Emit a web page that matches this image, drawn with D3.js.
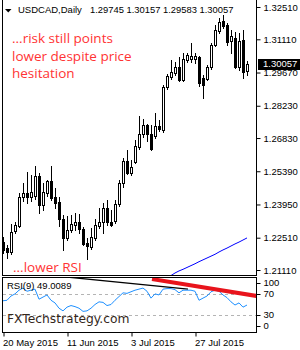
<!DOCTYPE html>
<html lang="en">
<head>
  <meta charset="UTF-8">
  <title>USDCAD Daily</title>
  <style>
    body { margin: 0; background: #fff; }
    svg { display: block; }
    text { font-family: "Liberation Sans", Arial, sans-serif; }
  </style>
</head>
<body>
  <script src="https://cdn.jsdelivr.net/npm/d3@7"></script>
  <script>
    // bars: 20 May 2015 .. 13 Aug 2015, one per trading day
    var dateLabels = ["20 May 2015", "11 Jun 2015", "3 Jul 2015", "27 Jul 2015"];
    var dateIndex = [0, 16, 32, 48];

    var opens = [1.2232, 1.2206, 1.2189, 1.2280, 1.2302, 1.2427, 1.2445, 1.2427, 1.2432, 1.2518,
      1.2393, 1.2445, 1.2497, 1.2427, 1.2406, 1.2332, 1.2250, 1.2284, 1.2306, 1.2319,
      1.2289, 1.2228, 1.2211, 1.2250, 1.2302, 1.2319, 1.2380, 1.2319, 1.2323, 1.2397,
      1.2488, 1.2584, 1.2531, 1.2579, 1.2644, 1.2701, 1.2740, 1.2701, 1.2692, 1.2735,
      1.2718, 1.2904, 1.2948, 1.2965, 1.2991, 1.2935, 1.3021, 1.3026, 1.3026, 1.3034,
      1.2943, 1.2939, 1.2991, 1.3086, 1.3147, 1.3190, 1.3173, 1.3104, 1.3117, 1.2993,
      1.3108, 1.29745];
    var highs = [1.2254, 1.2219, 1.2310, 1.2319, 1.2445, 1.2488, 1.2536, 1.2523, 1.2562, 1.2531,
      1.2488, 1.2501, 1.2562, 1.2466, 1.2427, 1.2349, 1.2345, 1.2349, 1.2358, 1.2354,
      1.2297, 1.2250, 1.2293, 1.2332, 1.2380, 1.2401, 1.2414, 1.2371, 1.2414, 1.2501,
      1.2597, 1.2631, 1.2588, 1.2675, 1.2779, 1.2766, 1.2744, 1.2740, 1.2792, 1.2761,
      1.2913, 1.2961, 1.3021, 1.3013, 1.3034, 1.3052, 1.3052, 1.3095, 1.3052, 1.3039,
      1.2956, 1.3000, 1.3095, 1.3173, 1.3203, 1.3216, 1.3182, 1.3151, 1.3143, 1.3140,
      1.3151, 1.30157];
    var lows = [1.2185, 1.2163, 1.2180, 1.2271, 1.2297, 1.2410, 1.2401, 1.2410, 1.2419, 1.2358,
      1.2371, 1.2432, 1.2414, 1.2380, 1.2302, 1.2198, 1.2241, 1.2276, 1.2284, 1.2271,
      1.2219, 1.2159, 1.2202, 1.2241, 1.2293, 1.2271, 1.2306, 1.2302, 1.2315, 1.2388,
      1.2471, 1.2527, 1.2523, 1.2575, 1.2636, 1.2688, 1.2670, 1.2631, 1.2683, 1.2714,
      1.2709, 1.2896, 1.2939, 1.2956, 1.2930, 1.2930, 1.3013, 1.3013, 1.3008, 1.2909,
      1.2857, 1.2935, 1.2982, 1.3082, 1.3138, 1.3160, 1.3086, 1.3052, 1.2987, 1.2980,
      1.2943, 1.29583];
    var closes = [1.2198, 1.2189, 1.2276, 1.2306, 1.2427, 1.2445, 1.2427, 1.2449, 1.2518, 1.2393,
      1.2449, 1.2497, 1.2423, 1.2401, 1.2332, 1.2250, 1.2284, 1.2310, 1.2319, 1.2289,
      1.2224, 1.2215, 1.2254, 1.2306, 1.2319, 1.2380, 1.2319, 1.2306, 1.2397, 1.2488,
      1.2584, 1.2531, 1.2557, 1.2649, 1.2701, 1.2740, 1.2701, 1.2636, 1.2735, 1.2722,
      1.2904, 1.2952, 1.2969, 1.2991, 1.2935, 1.3026, 1.3043, 1.3039, 1.3039, 1.2922,
      1.2913, 1.2991, 1.3086, 1.3151, 1.3186, 1.3169, 1.3099, 1.3125, 1.2991, 1.3103,
      1.2970, 1.30057];

    // moving average (blue), starts at bar 42
    var maStart = 42;
    var maValues = [1.2087, 1.2098, 1.2107, 1.2114, 1.2122, 1.2130, 1.2138, 1.2147, 1.2155, 1.2163,
      1.2171, 1.2179, 1.2189, 1.2198, 1.2206, 1.2215, 1.2224, 1.2232, 1.2241, 1.2250];

    var rsiValues = [57, 58, 66, 70, 77, 81, 75, 77, 79, 60,
      64, 68, 58, 53, 43, 38, 45, 48, 46, 43,
      37, 38, 43, 50, 55, 54, 48, 50, 58, 65,
      72, 71, 74, 77, 79, 81, 75, 62, 70, 68,
      79, 80, 80, 78, 72, 77, 77, 77, 75, 58,
      62, 66, 74, 77, 75, 68, 63, 55, 49, 53,
      45, 49.0089];

    var priceTicks = [1.32510, 1.31110, 1.29670, 1.28230, 1.26830, 1.25390, 1.23950, 1.22510, 1.21110];
    var rsiTicks = [100, 70, 30, 0];
    var rsiLevels = [70, 30];

    // trend lines drawn on the RSI window: [bar index, rsi]
    var blackTrend = [[13, 104], [46.25, 79]];
    var redTrend = [[37.25, 98], [63.5, 66]];

    var width = 300;
    var height = 350;

    var svg = d3.select("body")
      .append("svg")
      .attr("width", width)
      .attr("height", height);

    var axisX = 256;   // right price axis
    var mainBottom = 275;
    var rsiTop = 277, rsiBottom = 332;

    var x = d3.scaleLinear().domain([0, 61]).range([3, 247]);
    var y = d3.scaleLinear().domain([1.2111, 1.3251]).range([270, 7]);
    var yRsi = d3.scaleLinear().domain([0, 100]).range([331, 278]);

    var bars = opens.map(function (o, i) {
      return { i: i, o: o, h: highs[i], l: lows[i], c: closes[i] };
    });

    var defs = svg.append("defs");
    defs.append("clipPath").attr("id", "clipMain")
      .append("rect").attr("x", 2).attr("y", 0).attr("width", axisX - 2).attr("height", mainBottom);
    defs.append("clipPath").attr("id", "clipRsi")
      .append("rect").attr("x", 2).attr("y", rsiTop + 1).attr("width", axisX - 2).attr("height", rsiBottom - rsiTop - 1);

    // frames
    var frame = svg.append("g").attr("stroke", "#000").attr("shape-rendering", "crispEdges");
    frame.append("line").attr("x1", 2.5).attr("x2", 2.5).attr("y1", 0).attr("y2", mainBottom + 1);
    frame.append("line").attr("x1", 2).attr("x2", axisX + 1).attr("y1", mainBottom + 0.5).attr("y2", mainBottom + 0.5);
    frame.append("line").attr("x1", axisX + 0.5).attr("x2", axisX + 0.5).attr("y1", 0).attr("y2", mainBottom + 1);
    frame.append("line").attr("x1", 2.5).attr("x2", 2.5).attr("y1", rsiTop).attr("y2", rsiBottom + 1);
    frame.append("line").attr("x1", 2).attr("x2", axisX + 1).attr("y1", rsiTop + 0.5).attr("y2", rsiTop + 0.5);
    frame.append("line").attr("x1", 2).attr("x2", axisX + 1).attr("y1", rsiBottom + 0.5).attr("y2", rsiBottom + 0.5);
    frame.append("line").attr("x1", axisX + 0.5).attr("x2", axisX + 0.5).attr("y1", rsiTop).attr("y2", rsiBottom + 1);

    // candles
    var main = svg.append("g").attr("clip-path", "url(#clipMain)");
    var candle = main.selectAll("g.candle")
      .data(bars)
      .enter()
      .append("g")
      .attr("shape-rendering", "crispEdges");

    candle.append("line")
      .attr("x1", function (d) { return Math.round(x(d.i)) + 0.5; })
      .attr("x2", function (d) { return Math.round(x(d.i)) + 0.5; })
      .attr("y1", function (d) { return Math.round(y(d.h)); })
      .attr("y2", function (d) { return Math.round(y(d.l)) + 1; })
      .attr("stroke", "#000");

    candle.append("rect")
      .attr("x", function (d) { return Math.round(x(d.i)) - 0.5; })
      .attr("y", function (d) { return Math.round(y(Math.max(d.o, d.c))) + 0.5; })
      .attr("width", 2)
      .attr("height", function (d) {
        return Math.max(0, Math.round(y(Math.min(d.o, d.c))) - Math.round(y(Math.max(d.o, d.c))));
      })
      .attr("fill", function (d) { return d.c >= d.o ? "#fff" : "#000"; })
      .attr("stroke", "#000");

    // moving average
    main.append("path")
      .datum(maValues)
      .attr("fill", "none")
      .attr("stroke", "#0000ff")
      .attr("stroke-width", 1)
      .attr("d", d3.line()
        .x(function (d, i) { return x(maStart + i); })
        .y(function (d) { return y(d); }));

    // price axis
    var yAxis = d3.axisRight(y)
      .tickValues(priceTicks)
      .tickSize(4)
      .tickSizeOuter(0)
      .tickFormat(d3.format(".5f"));
    var gy = svg.append("g")
      .attr("transform", "translate(" + (axisX + 0.5) + ",0)")
      .call(yAxis);
    gy.select(".domain").remove();
    gy.selectAll("text").attr("font-size", "9.5px").attr("font-family", "Liberation Sans, Arial, sans-serif").attr("fill", "#000");
    gy.selectAll("line").attr("stroke", "#000");

    // current price box
    var last = closes[closes.length - 1];
    svg.append("rect")
      .attr("x", axisX + 2).attr("y", Math.round(y(last)) - 5)
      .attr("width", width - axisX - 2).attr("height", 11)
      .attr("fill", "#000");
    svg.append("text")
      .attr("x", axisX + 7).attr("y", y(last) + 3.5)
      .attr("font-size", "9.5px").attr("fill", "#fff")
      .text(d3.format(".5f")(last));

    // title
    svg.append("path")
      .attr("d", "M5,9 L11.5,9 L8.25,12.5 Z")
      .attr("fill", "#000");
    svg.append("text").attr("x", 18).attr("y", 13).attr("font-size", "9.5px").text("USDCAD,Daily");
    svg.append("text").attr("x", 90).attr("y", 13).attr("font-size", "9.4px")
      .text([opens, highs, lows, closes].map(function (a) { return d3.format(".5f")(a[a.length - 1]); }).join(" "));

    // annotation
    var notes = ["...risk still points", "lower despite price", "hesitation"];
    svg.selectAll("text.note")
      .data(notes)
      .enter()
      .append("text")
      .attr("class", "note")
      .attr("x", 12)
      .attr("y", function (d, i) { return 43.3 + i * 17.5; })
      .style("font-family", "'Open Sans', sans-serif")
      .attr("font-size", "13.5px")
      .attr("fill", "#ff3333")
      .text(function (d) { return d; });
    svg.append("text")
      .attr("x", 13).attr("y", 272)
      .style("font-family", "'Open Sans', sans-serif")
      .attr("font-size", "13.5px")
      .attr("fill", "#ff3333")
      .text("...lower RSI");

    // RSI window
    var rsiG = svg.append("g").attr("clip-path", "url(#clipRsi)");
    rsiG.selectAll("line.level")
      .data(rsiLevels)
      .enter()
      .append("line")
      .attr("x1", 3).attr("x2", axisX)
      .attr("y1", function (d) { return Math.round(yRsi(d)) + 0.5; })
      .attr("y2", function (d) { return Math.round(yRsi(d)) + 0.5; })
      .attr("stroke", "#b4b4b4")
      .attr("stroke-dasharray", "3,3")
      .attr("shape-rendering", "crispEdges");

    var trendLine = d3.line()
      .x(function (d) { return x(d[0]); })
      .y(function (d) { return yRsi(d[1]); });

    rsiG.append("path")
      .datum(blackTrend)
      .attr("fill", "none")
      .attr("stroke", "#000")
      .attr("stroke-width", 1.3)
      .attr("d", trendLine);

    rsiG.append("path")
      .datum(rsiValues)
      .attr("fill", "none")
      .attr("stroke", "#1e90ff")
      .attr("stroke-width", 1)
      .attr("d", d3.line()
        .x(function (d, i) { return x(i); })
        .y(function (d) { return yRsi(d); }));

    rsiG.append("path")
      .datum(redTrend)
      .attr("fill", "none")
      .attr("stroke", "#e8141c")
      .attr("stroke-width", 4)
      .attr("d", trendLine);

    svg.append("text")
      .attr("x", 7).attr("y", 289)
      .attr("font-size", "9.5px")
      .text("RSI(9) " + d3.format(".4f")(rsiValues[rsiValues.length - 1]));

    svg.append("text")
      .attr("x", 7).attr("y", 322.5)
      .style("font-family", "'DejaVu Sans', sans-serif")
      .attr("font-size", "12.3px")
      .attr("fill", "#33261a")
      .text("FXTechstrategy.com");

    // RSI axis labels (top/bottom kept inside the window)
    var rsiAxis = svg.append("g").attr("transform", "translate(" + (axisX + 0.5) + ",0)");
    rsiAxis.selectAll("line")
      .data(rsiTicks)
      .enter()
      .append("line")
      .attr("x1", 0).attr("x2", 4)
      .attr("y1", function (d) { return Math.round(Math.max(283, Math.min(326, yRsi(d)))) + 0.5; })
      .attr("y2", function (d) { return Math.round(Math.max(283, Math.min(326, yRsi(d)))) + 0.5; })
      .attr("stroke", "#000");
    rsiAxis.selectAll("text")
      .data(rsiTicks)
      .enter()
      .append("text")
      .attr("x", 7)
      .attr("y", function (d) { return Math.max(283, Math.min(326, yRsi(d))); })
      .attr("dy", "0.32em")
      .attr("font-size", "9.5px")
      .text(function (d) { return d; });

    // time axis
    var xAxis = d3.axisBottom(x)
      .tickValues(dateIndex)
      .tickSize(4)
      .tickSizeOuter(0)
      .tickFormat(function (d, i) { return dateLabels[i]; });
    var gx = svg.append("g")
      .attr("transform", "translate(0.5," + (rsiBottom + 0.5) + ")")
      .call(xAxis);
    gx.select(".domain").remove();
    gx.selectAll("line").attr("stroke", "#000");
    gx.selectAll("text")
      .attr("text-anchor", "start")
      .attr("x", -1)
      .attr("font-size", "9.5px")
      .attr("font-family", "Liberation Sans, Arial, sans-serif")
      .attr("fill", "#000");
  </script>
</body>
</html>
